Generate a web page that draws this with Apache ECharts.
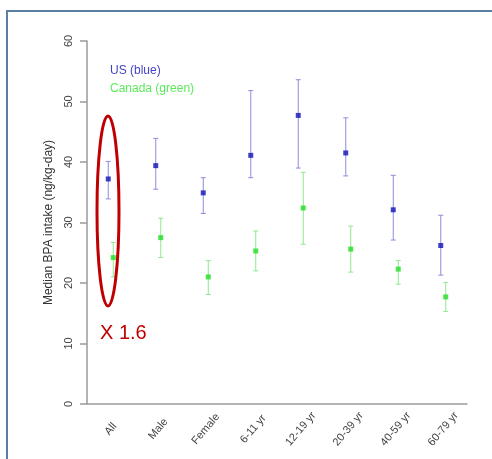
<!DOCTYPE html>
<html>
<head>
<meta charset="utf-8">
<script src="https://cdn.jsdelivr.net/npm/echarts@6/dist/echarts.min.js"></script>
<style>
html,body{margin:0;padding:0;background:#fff;}
#c{width:492px;height:459px;}
</style>
</head>
<body>
<div id="c"></div>
<script>
var categories = ['All', 'Male', 'Female', '6-11 yr', '12-19 yr', '20-39 yr', '40-59 yr', '60-79 yr'];
var yTicks = [0, 10, 20, 30, 40, 50, 60];
var usMedian = [37.2, 39.4, 34.9, 41.1, 47.7, 41.5, 32.1, 26.2];
var usLow    = [33.9, 35.5, 31.5, 37.4, 39.0, 37.7, 27.1, 21.3];
var usHigh   = [40.1, 43.9, 37.4, 51.8, 53.6, 47.3, 37.8, 31.2];
var caMedian = [24.2, 27.5, 21.0, 25.3, 32.4, 25.6, 22.3, 17.7];
var caLow    = [21.0, 24.2, 18.1, 22.0, 26.4, 21.8, 19.8, 15.3];
var caHigh   = [26.7, 30.7, 23.7, 28.6, 38.3, 29.4, 23.7, 20.1];
var legendLabels = ['US (blue)', 'Canada (green)'];
var annotationText = 'X 1.6';

var chart = echarts.init(document.getElementById('c'), null, {renderer: 'canvas'});

function barData(low, high) {
  return categories.map(function (c, i) { return [i, low[i], high[i]]; });
}
function pointData(med) {
  return categories.map(function (c, i) { return [i, med[i]]; });
}
function errRender(offset, color) {
  return function (params, api) {
    var lo = api.coord([api.value(0), api.value(1)]);
    var hi = api.coord([api.value(0), api.value(2)]);
    var x = lo[0] + offset;
    var cap = 2.5;
    var st = {stroke: color, lineWidth: 1};
    return {
      type: 'group',
      children: [
        {type: 'line', shape: {x1: x, y1: lo[1], x2: x, y2: hi[1]}, style: st},
        {type: 'line', shape: {x1: x - cap, y1: lo[1], x2: x + cap, y2: lo[1]}, style: st},
        {type: 'line', shape: {x1: x - cap, y1: hi[1], x2: x + cap, y2: hi[1]}, style: st}
      ]
    };
  };
}

var FONT = 'Liberation Sans, Arial, sans-serif';
var option = {
  animation: false,
  backgroundColor: '#ffffff',
  grid: {left: 87, right: 25, top: 41, bottom: 55, containLabel: false},
  xAxis: {
    type: 'category',
    data: categories,
    boundaryGap: true,
    axisLine: {show: true, lineStyle: {color: '#9a9a9a', width: 1.5}},
    axisTick: {show: false},
    axisLabel: {rotate: 50, margin: 25, fontSize: 11, color: '#444', fontFamily: FONT, interval: 0,
      align: 'center', verticalAlign: 'middle'}
  },
  yAxis: {
    type: 'value',
    min: 0, max: 60, interval: 10,
    name: 'Median BPA intake (ng/kg-day)',
    nameLocation: 'middle',
    nameGap: 30,
    nameTextStyle: {fontSize: 12, color: '#333', fontFamily: FONT},
    splitLine: {show: false},
    axisLine: {show: true, lineStyle: {color: '#9a9a9a', width: 1.5}},
    axisTick: {show: true, length: 7, lineStyle: {color: '#9a9a9a', width: 1.5}},
    axisLabel: {rotate: 90, margin: 13, fontSize: 11, color: '#444', fontFamily: FONT,
      formatter: function (v) { return yTicks.indexOf(v) >= 0 ? String(v) : ''; }}
  },
  series: [
    {type: 'custom', name: 'US bars', data: barData(usLow, usHigh), renderItem: errRender(-2.5, '#8c8cdc'), z: 2},
    {type: 'custom', name: 'CA bars', data: barData(caLow, caHigh), renderItem: errRender(2.5, '#8fe88f'), z: 2},
    {type: 'scatter', name: 'US', data: pointData(usMedian), symbol: 'rect', symbolSize: 5, symbolOffset: [-2.5, 0],
      itemStyle: {color: '#1010b8'}, z: 3},
    {type: 'scatter', name: 'Canada', data: pointData(caMedian), symbol: 'rect', symbolSize: 5, symbolOffset: [2.5, 0],
      itemStyle: {color: '#22dd22'}, z: 3}
  ],
  graphic: [
    {type: 'rect', shape: {x: 7, y: 11, width: 520, height: 520}, style: {fill: 'none', stroke: '#5b7fa3', lineWidth: 2}, z: 0},
    {type: 'text', left: 110, top: 65, style: {text: legendLabels[0], fill: '#4444c8', fontSize: 12, fontFamily: FONT}},
    {type: 'text', left: 110, top: 83, style: {text: legendLabels[1], fill: '#5cea5c', fontSize: 12, fontFamily: FONT}},
    {type: 'ellipse', shape: {cx: 108, cy: 211, rx: 11, ry: 95}, style: {fill: 'none', stroke: '#c00000', lineWidth: 3}, z: 10},
    {type: 'text', left: 100, top: 323, style: {text: annotationText, fill: '#c00000', fontSize: 20, fontFamily: FONT}, z: 10}
  ]
};
chart.setOption(option);
</script>
</body>
</html>
